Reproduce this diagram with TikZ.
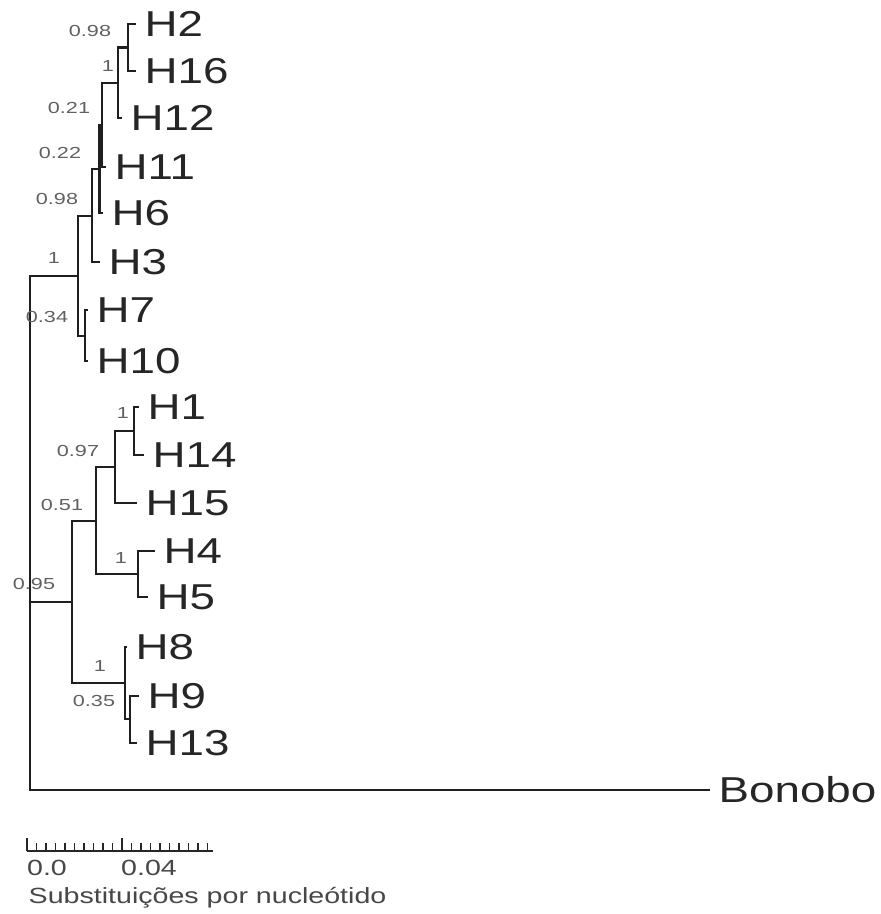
\documentclass[tikz,border=0pt]{standalone}
\usepackage{fontspec}
\setmainfont{Liberation Sans}
\newfontfamily\lblfont[FakeStretch=1.27]{Liberation Sans}
\newfontfamily\bootfont[FakeStretch=1.35]{Liberation Sans}
\newfontfamily\scalefont[FakeStretch=1.3]{Liberation Sans}
\begin{document}
\begin{tikzpicture}[x=1pt,y=-1pt,
  branch/.style={draw=black!88, line width=2.2pt},
  leaf/.style={anchor=west, inner xsep=8.5pt, inner ysep=0pt, font={\lblfont\fontsize{36}{36}\selectfont}, text=black!85},
  boot/.style={inner sep=0pt, font={\bootfont\fontsize{16}{16}\selectfont}, text=black!62},
  scaletxt/.style={inner sep=0pt, font={\scalefont\fontsize{22}{22}\selectfont}, text=black!72},
  tick/.style={draw=black!85, line width=1.5pt}]
\fill[white] (0,0) rectangle (881,914);
\useasboundingbox (0,0) rectangle (881,914);

% leaves
\node[leaf] (H2)  at (136,24)  {H2};
\node[leaf] (H16) at (136,71)  {H16};
\node[leaf] (H12) at (122,118) {H12};
\node[leaf] (H11) at (106,167) {H11};
\node[leaf] (H6)  at (103,213) {H6};
\node[leaf] (H3)  at (100,262) {H3};
\node[leaf] (H7)  at (88,310)  {H7};
\node[leaf] (H10) at (88,361)  {H10};
\node[leaf] (H1)  at (139,407) {H1};
\node[leaf] (H14) at (144,455) {H14};
\node[leaf] (H15) at (137,503) {H15};
\node[leaf] (H4)  at (155,551) {H4};
\node[leaf] (H5)  at (148,597) {H5};
\node[leaf] (H8)  at (127,647) {H8};
\node[leaf] (H9)  at (139,696) {H9};
\node[leaf] (H13) at (137,743) {H13};
\node[leaf] (Bon) at (710,790) {Bonobo};

% internal nodes
\coordinate (nA) at (128,47.5);
\coordinate (nB) at (118,83);
\coordinate (nC) at (102,125);
\coordinate (nD) at (99.5,169);
\coordinate (nE) at (92,216);
\coordinate (nF) at (85,336);
\coordinate (nG) at (78,276);
\coordinate (nK) at (134,431);
\coordinate (nL) at (115,467);
\coordinate (nM) at (138,574);
\coordinate (nN) at (96,521);
\coordinate (nO) at (130,719);
\coordinate (nP) at (125,683);
\coordinate (nQ) at (72,602);
\coordinate (nR) at (30,533);

% branches
\draw[branch] (nA) |- (H2);
\draw[branch] (nA) |- (H16);
\draw[branch] (nB) |- (nA);
\draw[branch] (nB) |- (H12);
\draw[branch] (nC) |- (nB);
\draw[branch] (nC) |- (H11);
\draw[branch] (nD) |- (nC);
\draw[branch] (nD) |- (H6);
\draw[branch] (nE) |- (nD);
\draw[branch] (nE) |- (H3);
\draw[branch] (nF) |- (H7);
\draw[branch] (nF) |- (H10);
\draw[branch] (nG) |- (nE);
\draw[branch] (nG) |- (nF);
\draw[branch] (nK) |- (H1);
\draw[branch] (nK) |- (H14);
\draw[branch] (nL) |- (nK);
\draw[branch] (nL) |- (H15);
\draw[branch] (nM) |- (H4);
\draw[branch] (nM) |- (H5);
\draw[branch] (nN) |- (nL);
\draw[branch] (nN) |- (nM);
\draw[branch] (nO) |- (H9);
\draw[branch] (nO) |- (H13);
\draw[branch] (nP) |- (H8);
\draw[branch] (nP) |- (nO);
\draw[branch] (nQ) |- (nN);
\draw[branch] (nQ) |- (nP);
\draw[branch] (nR) |- (nG);
\draw[branch] (nR) |- (nQ);
\draw[branch] (nR) |- (Bon);

% support values
\node[boot] (b1)  at (90,31)   {0.98};
\node[boot] (b2)  at (108,66)  {1};
\node[boot] (b3)  at (69,108)  {0.21};
\node[boot] (b4)  at (60,153)  {0.22};
\node[boot] (b5)  at (57,199)  {0.98};
\node[boot] (b6)  at (54,258)  {1};
\node[boot] (b7)  at (47,317)  {0.34};
\node[boot] (b8)  at (123,413) {1};
\node[boot] (b9)  at (78,451)  {0.97};
\node[boot] (b10) at (62,505)  {0.51};
\node[boot] (b11) at (121,558) {1};
\node[boot] (b12) at (34,584)  {0.95};
\node[boot] (b13) at (100,666) {1};
\node[boot] (b14) at (94,701)  {0.35};

% scale bar
\coordinate (s0) at (27,851);
\coordinate (s1) at (213,851);
\draw[tick] (s0) -- (s1);
\foreach \i in {1,...,9,11,12,...,19}
  \draw[tick] ([xshift=\i*9.5pt]s0) -- ++(0,-8);
\draw[tick] (s0) -- ++(0,-13);
\draw[tick] ([xshift=95pt]s0) -- ++(0,-13);
\node[scaletxt] (sl0) at (47,868) {0.0};
\node[scaletxt] (sl1) at (149,868) {0.04};
\node[scaletxt, anchor=base west] (cap) at (28.5,903) {Substituições por nucleótido};
\end{tikzpicture}
\end{document}
